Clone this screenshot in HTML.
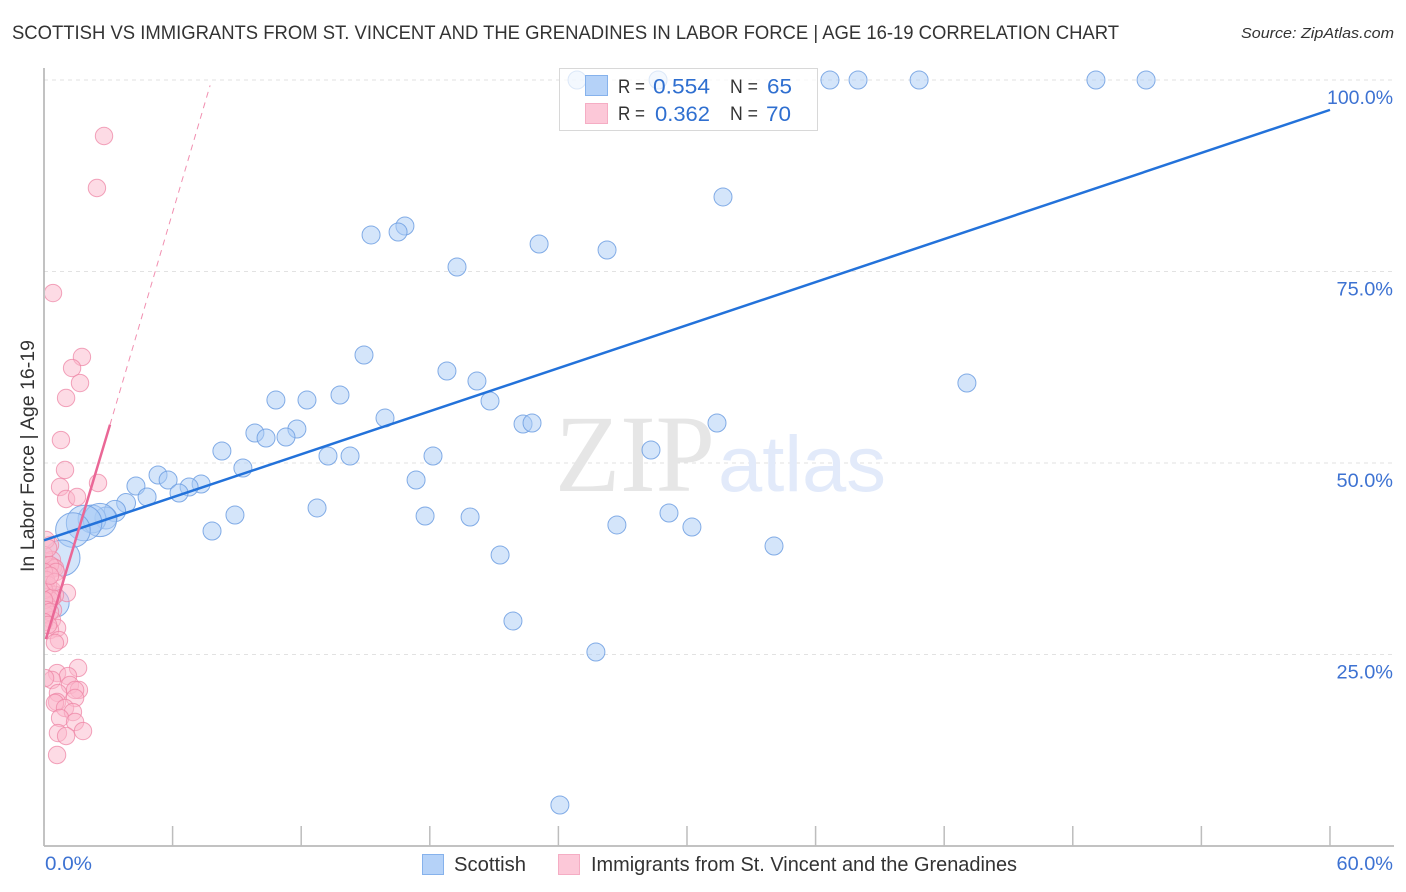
<!DOCTYPE html>
<html lang="en">
<head>
<meta charset="utf-8">
<title>Scottish vs Immigrants from St. Vincent and the Grenadines in Labor Force Correlation Chart</title>
<style>
html,body{margin:0;padding:0;background:#fff;width:1406px;height:892px;overflow:hidden}
svg{display:block;font-family:"Liberation Sans",sans-serif}
</style>
</head>
<body>
<svg id="chart" width="1406" height="892" viewBox="0 0 1406 892" xmlns="http://www.w3.org/2000/svg">
  <defs>
    <clipPath id="plot-clip"><rect x="45" y="60" width="1349" height="786"/></clipPath>
  </defs>
  <rect x="0" y="0" width="1406" height="892" fill="#ffffff"/>
  <text x="12" y="39" font-size="19" fill="#333333" textLength="1107" lengthAdjust="spacingAndGlyphs">SCOTTISH VS IMMIGRANTS FROM ST. VINCENT AND THE GRENADINES IN LABOR FORCE | AGE 16-19 CORRELATION CHART</text>
  <text x="1241" y="38" font-size="15" font-style="italic" fill="#333333" textLength="153" lengthAdjust="spacingAndGlyphs">Source: ZipAtlas.com</text>
  <g id="grid"></g>
  <g>
    <text x="555" y="491" font-family="'Liberation Serif',serif" font-size="110" fill="#e6e6e6" textLength="160" lengthAdjust="spacingAndGlyphs">ZIP</text>
    <text x="718" y="491" font-size="79" fill="#e2eafa" textLength="168" lengthAdjust="spacingAndGlyphs">atlas</text>
  </g>
  <g id="axes"></g>
  <g id="scottish-points" clip-path="url(#plot-clip)"></g>
  <g id="immigrant-points" clip-path="url(#plot-clip)"></g>
  <g id="trends"></g>
  <g id="y-labels"></g>
  <g id="x-labels"></g>
  <text transform="translate(34,456) rotate(-90)" text-anchor="middle" font-size="19" fill="#333333" textLength="232" lengthAdjust="spacingAndGlyphs">In Labor Force | Age 16-19</text>

  <g>
    <rect x="559.5" y="68.5" width="258" height="62" fill="#ffffff" fill-opacity="0.72" stroke="#d8d8d8" stroke-width="1"/>
    <rect x="585.5" y="75.5" width="22" height="20" fill="#b5d2f8" stroke="#86b2ec"/>
    <rect x="585.5" y="103.5" width="22" height="20" fill="#fcc8d8" stroke="#f5adc4"/>
    <g font-size="19.5" fill="#333333">
      <text x="618" y="93" textLength="27" lengthAdjust="spacingAndGlyphs">R =</text>
      <text x="730" y="93" textLength="28" lengthAdjust="spacingAndGlyphs">N =</text>
      <text x="618" y="120" textLength="27" lengthAdjust="spacingAndGlyphs">R =</text>
      <text x="730" y="120" textLength="28" lengthAdjust="spacingAndGlyphs">N =</text>
    </g>
    <g font-size="21" fill="#2f6fd0">
      <text x="653" y="93.5" textLength="57" lengthAdjust="spacingAndGlyphs">0.554</text>
      <text x="767" y="93.5" textLength="25" lengthAdjust="spacingAndGlyphs">65</text>
      <text x="655" y="121" textLength="55" lengthAdjust="spacingAndGlyphs">0.362</text>
      <text x="766" y="121" textLength="25" lengthAdjust="spacingAndGlyphs">70</text>
    </g>
  </g>

  <g>
    <rect x="422.5" y="854.5" width="21" height="20" fill="#b5d2f8" stroke="#86b2ec"/>
    <text x="454" y="871" font-size="20" fill="#333333" textLength="72" lengthAdjust="spacingAndGlyphs">Scottish</text>
    <rect x="558.5" y="854.5" width="21" height="20" fill="#fcc8d8" stroke="#f5adc4"/>
    <text x="591" y="871" font-size="20" fill="#333333" textLength="426" lengthAdjust="spacingAndGlyphs">Immigrants from St. Vincent and the Grenadines</text>
  </g>
</svg>
<script>
const yTickValues = [25, 50, 75, 100];
const yTickLabels = ["25.0%", "50.0%", "75.0%", "100.0%"];
const xTickValues = [0, 6, 12, 18, 24, 30, 36, 42, 48, 54, 60];
const xEndValues = [0, 60];
const xEndLabels = ["0.0%", "60.0%"];

const scottishX = [24.87,28.65,36.67,37.98,40.83,49.08,51.42,31.68,16.84,16.52,15.26,23.10,26.27,19.27,14.93,18.80,20.20,43.06,13.81,10.82,12.27,20.81,15.91,31.40,22.35,22.77,9.84,11.80,10.36,11.29,8.30,28.32,13.25,14.28,18.15,9.28,5.32,5.79,17.36,4.29,7.33,6.77,6.30,4.81,3.83,3.31,12.74,8.91,29.16,17.78,19.88,26.73,2.89,2.24,2.61,1.87,1.35,7.84,30.23,34.06,21.28,0.84,0.51,21.88,25.75,24.07];
const scottishY = [100,100,100,100,100,100,100,84.73,80.94,80.16,79.77,78.59,77.81,75.59,64.10,62.01,60.70,60.44,58.88,58.22,58.22,58.09,55.87,55.22,55.09,55.22,53.92,54.44,53.26,53.39,51.57,51.70,50.91,50.91,50.91,49.35,48.43,47.78,47.78,47.00,47.26,46.87,46.08,45.56,44.78,43.73,44.13,43.21,43.47,43.08,42.95,41.91,42.82,42.69,42.56,42.17,41.25,41.12,41.64,39.16,37.99,37.60,31.72,29.37,25.33,5.35];
const scottishPopulation = [1,1,1,1,1,1,1,1,1,1,1,1,1,1,1,1,1,1,1,1,1,1,1,1,1,1,1,1,1,1,1,1,1,1,1,1,1,1,1,1,1,1,1,1,1.1,1.4,1,1,1,1,1,1,1.5,2.4,3.4,3.9,3.7,1,1,1,1,4,2.5,1,1,1];

const immigrantsX = [2.80,2.47,0.42,1.77,1.31,1.68,1.03,0.79,0.98,2.52,0.75,1.03,1.54,0.28,0.37,0.09,0.42,0.19,0.51,0.00,1.07,0.37,0.14,0.51,0.28,0.14,0.42,0.05,0.37,0.61,0.28,0.70,0.51,1.59,0.61,1.12,0.37,0.05,1.21,1.63,1.45,0.65,0.61,0.51,1.45,0.98,1.35,0.75,1.45,1.82,0.65,1.03,0.61,0.09,0.00,0.19,0.28,0.56,0.00,0.09,0.19,0.00,0.37,0.00,0.09,0.28,0.00,0.19,0.51,0.28];
const immigrantsY = [92.69,85.90,72.19,63.84,62.40,60.44,58.49,53.00,49.09,47.39,46.87,45.30,45.56,39.30,37.34,36.68,36.42,35.77,36.29,34.73,33.03,33.42,33.42,32.77,32.11,31.46,30.81,30.16,29.50,28.46,28.20,26.89,26.50,23.24,22.58,22.19,21.67,21.93,21.02,20.37,20.37,19.97,18.80,18.67,19.32,18.02,17.49,16.71,16.19,15.01,14.75,14.36,11.88,39.95,37.99,38.90,36.68,35.77,35.77,34.73,34.07,33.42,32.38,32.11,30.81,30.55,29.24,28.85,34.46,35.29];

const scottishTrendX = [0, 60];
const scottishTrendY = [39.9, 96.1];
const immigrantsTrendX = [0.09, 3.08];
const immigrantsTrendY = [27, 55];
const immigrantsDashX = [3.08, 7.75];
const immigrantsDashY = [55, 99.3];

const NS = "http://www.w3.org/2000/svg";
const xScale = v => 44 + v * 21.433;
const yScale = v => 846 - v * 7.66;
const rScale = w => 9 * Math.sqrt(w);
const labelWidth = s => 47 + 9.5 * (s.length - 4);

function make(tag, attrs, parentId) {
  const el = document.createElementNS(NS, tag);
  for (const k in attrs) el.setAttribute(k, attrs[k]);
  document.getElementById(parentId).appendChild(el);
  return el;
}

yTickValues.forEach((v, i) => {
  const line = make("line", {x1: 44, x2: 1394, y1: yScale(v), y2: yScale(v), stroke: "#e2e2e2", "stroke-width": 1, "stroke-dasharray": "4 4"}, "grid");
  
  
  const label = make("text", {x: 1393, y: yScale(v) + 24, "text-anchor": "end", "font-size": 19.5, fill: "#3d72d2", textLength: labelWidth(yTickLabels[i]), lengthAdjust: "spacingAndGlyphs"}, "y-labels");
  
  
  label.textContent = yTickLabels[i];
});

const yAxis = make("line", {x1: 44, x2: 44, y1: 68, y2: 846, stroke: "#adadad", "stroke-width": 1.5}, "axes");


const xAxis = make("line", {x1: 44, x2: 1394, y1: 846, y2: 846, stroke: "#adadad", "stroke-width": 1.5}, "axes");



xTickValues.forEach(v => {
  const tick = make("line", {x1: xScale(v), x2: xScale(v), y1: 826, y2: 846, stroke: "#bdbdbd", "stroke-width": 1.5}, "axes");
  
  
});

xEndValues.forEach((v, i) => {
  const label = make("text", {x: i === 0 ? xScale(v) + 1 : 1393, y: 870, "text-anchor": i === 0 ? "start" : "end", "font-size": 19.5, fill: "#3d72d2", textLength: labelWidth(xEndLabels[i]), lengthAdjust: "spacingAndGlyphs"}, "x-labels");
  
  
  label.textContent = xEndLabels[i];
});

scottishX.forEach((v, i) => {
  const c = make("circle", {cx: xScale(v), cy: yScale(scottishY[i]), r: rScale(scottishPopulation[i]), fill: "#a9ccf6", "fill-opacity": 0.5, stroke: "#6f9fe2", "stroke-opacity": 0.85, "stroke-width": 1}, "scottish-points");
  
  
});

immigrantsX.forEach((v, i) => {
  const c = make("circle", {cx: xScale(v), cy: yScale(immigrantsY[i]), r: 8.7, fill: "#fbb8cc", "fill-opacity": 0.5, stroke: "#ee86a6", "stroke-opacity": 0.75, "stroke-width": 1}, "immigrant-points");
  
  
});

const blueLine = make("line", {x1: xScale(scottishTrendX[0]), y1: yScale(scottishTrendY[0]), x2: xScale(scottishTrendX[1]), y2: yScale(scottishTrendY[1]), stroke: "#2372da", "stroke-width": 2.5}, "trends");



const pinkDash = make("line", {x1: xScale(immigrantsDashX[0]), y1: yScale(immigrantsDashY[0]), x2: xScale(immigrantsDashX[1]), y2: yScale(immigrantsDashY[1]), stroke: "#ec6a96", "stroke-width": 1, "stroke-dasharray": "6 5", "stroke-opacity": 0.75}, "trends");



const pinkLine = make("line", {x1: xScale(immigrantsTrendX[0]), y1: yScale(immigrantsTrendY[0]), x2: xScale(immigrantsTrendX[1]), y2: yScale(immigrantsTrendY[1]), stroke: "#ea6796", "stroke-width": 2.5}, "trends");


</script>
</body>
</html>
